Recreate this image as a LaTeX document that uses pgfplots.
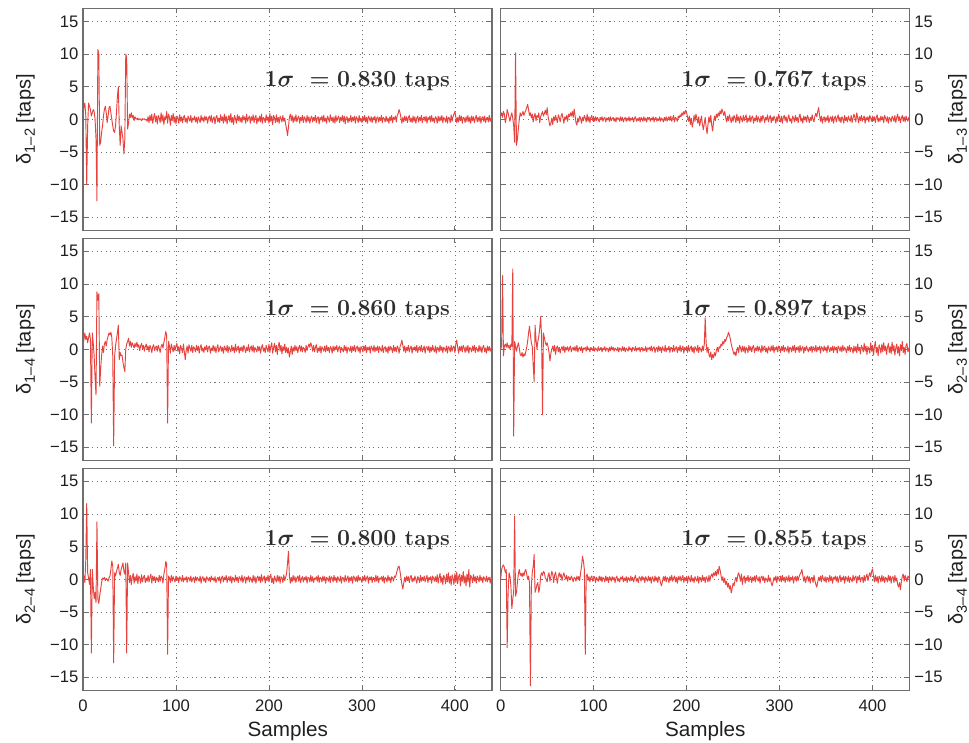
\documentclass[border=0pt]{standalone}
\usepackage{pgfplots}
\pgfplotsset{compat=1.18}
\usepackage{pgfplotstable}
\usepackage{fontspec}
\newfontfamily\hv{Liberation Sans}
\definecolor{linered}{RGB}{230,66,62}
\definecolor{framegray}{RGB}{110,110,110}

\pgfplotstableread[row sep=\\, header=false]{
0.5\\2.0\\2.5\\0.5\\-10.0\\-1.0\\2.5\\2.0\\1.5\\0.5\\
1.0\\1.5\\1.2\\0.0\\-3.0\\-12.5\\10.7\\10.0\\-4.0\\-3.5\\
-2.0\\-1.0\\0.5\\1.5\\2.0\\1.0\\-0.5\\0.5\\1.8\\2.0\\
1.0\\0.0\\-1.0\\-1.8\\-2.0\\-1.0\\1.0\\3.5\\5.0\\-1.0\\
-4.0\\-1.0\\-2.0\\-3.0\\-5.3\\-3.0\\10.0\\9.5\\-1.5\\-0.5\\
0.8\\0.3\\1.0\\0.2\\0.6\\-0.2\\0.4\\0.1\\0.0\\0.2\\
-0.1\\0.1\\0.0\\-0.2\\0.1\\0.0\\0.1\\-0.1\\0.0\\-0.3\\
0.4\\-0.5\\0.6\\-0.2\\0.8\\-0.6\\0.3\\0.9\\-0.4\\0.5\\
-0.7\\0.6\\0.2\\-0.5\\1.0\\-0.3\\0.7\\-0.8\\0.4\\0.1\\
1.2\\-0.6\\0.8\\0.3\\-0.9\\0.6\\-0.2\\0.9\\-0.5\\0.4\\
-0.7\\0.5\\0.2\\-0.6\\0.7\\-0.3\\0.4\\-0.5\\0.3\\0.6\\
-0.4\\0.2\\-0.6\\0.5\\0.1\\-0.3\\0.6\\-0.5\\0.2\\-0.1\\
0.5\\-0.4\\0.3\\-0.6\\0.4\\0.0\\-0.5\\0.6\\-0.2\\0.3\\
-0.4\\0.5\\-0.1\\0.4\\-0.6\\0.2\\0.5\\-0.3\\0.6\\-0.5\\
0.1\\0.4\\-0.7\\0.3\\0.6\\-0.4\\0.2\\-0.5\\0.7\\-0.2\\
0.4\\-0.6\\0.8\\-0.3\\0.5\\-0.7\\0.2\\0.6\\-0.4\\0.9\\
-0.5\\0.3\\-0.8\\0.6\\0.1\\-0.6\\0.7\\-0.2\\0.5\\-0.4\\
0.3\\-0.5\\0.6\\-0.1\\0.4\\-0.6\\0.8\\-0.3\\0.2\\0.5\\
-0.6\\0.4\\-0.2\\0.7\\-0.5\\0.3\\0.6\\-0.7\\0.2\\-0.3\\
0.5\\-0.4\\0.8\\-0.6\\0.3\\0.1\\-0.5\\0.7\\-0.2\\0.4\\
-0.6\\0.9\\-0.3\\0.5\\-0.8\\0.6\\0.2\\-0.5\\0.7\\-0.4\\
0.3\\-0.6\\0.5\\0.1\\-0.4\\0.6\\-0.3\\0.2\\-0.8\\-1.5\\
-2.5\\-1.2\\0.3\\0.8\\-0.2\\0.6\\-0.5\\0.4\\-0.3\\0.7\\
-0.4\\0.2\\0.5\\-0.6\\0.3\\-0.2\\0.6\\-0.5\\0.4\\0.1\\
-0.5\\0.6\\-0.3\\0.4\\-0.6\\0.2\\0.5\\-0.4\\0.3\\-0.2\\
0.6\\-0.5\\0.2\\0.4\\-0.7\\0.3\\-0.1\\0.5\\-0.4\\0.6\\
-0.3\\0.2\\-0.6\\0.5\\0.1\\-0.4\\0.7\\-0.2\\0.3\\-0.5\\
0.4\\-0.6\\0.6\\-0.3\\0.2\\0.5\\-0.5\\0.3\\-0.2\\0.6\\
-0.4\\0.5\\-0.7\\0.3\\0.4\\-0.5\\0.2\\-0.3\\0.6\\-0.4\\
0.3\\-0.2\\0.5\\-0.6\\0.4\\0.1\\-0.5\\0.6\\-0.3\\0.2\\
-0.5\\0.4\\-0.2\\0.6\\-0.4\\0.3\\-0.6\\0.5\\0.2\\-0.3\\
0.4\\-0.5\\0.3\\-0.1\\0.5\\-0.6\\0.2\\0.4\\-0.4\\0.3\\
-0.2\\0.6\\-0.5\\0.3\\0.1\\-0.4\\0.5\\-0.3\\0.2\\-0.6\\
0.4\\-0.2\\0.6\\-0.5\\0.3\\0.0\\0.5\\-0.4\\0.6\\0.9\\
1.5\\1.0\\0.2\\-0.6\\0.3\\-0.4\\0.5\\-0.2\\0.4\\-0.5\\
0.3\\0.6\\-0.4\\0.2\\-0.5\\0.5\\-0.3\\0.4\\-0.6\\0.2\\
0.5\\-0.4\\0.3\\-0.2\\0.6\\-0.5\\0.2\\0.4\\-0.3\\0.5\\
-0.6\\0.3\\-0.1\\0.5\\-0.4\\0.6\\-0.3\\0.2\\-0.5\\0.4\\
0.2\\-0.6\\0.5\\-0.3\\0.4\\-0.2\\0.6\\-0.5\\0.3\\0.1\\
-0.4\\0.5\\-0.6\\0.3\\0.2\\-0.5\\0.7\\-0.3\\0.4\\0.8\\
1.2\\0.4\\-0.5\\0.3\\-0.4\\0.6\\-0.2\\0.5\\-0.6\\0.3\\
0.2\\-0.5\\0.4\\-0.3\\0.6\\-0.4\\0.3\\-0.6\\0.5\\-0.2\\
0.4\\-0.5\\0.2\\0.6\\-0.4\\0.3\\-0.3\\0.5\\-0.6\\0.2\\
0.4\\-0.3\\0.5\\-0.5\\0.2\\0.3\\-0.4\\0.6\\-0.3\\0.2\\0.0\\
}\dA

\pgfplotstableread[row sep=\\, header=false]{
0.5\\1.0\\0.3\\1.2\\0.8\\-0.5\\0.2\\1.5\\1.0\\0.3\\
-0.3\\0.5\\1.0\\0.2\\-1.0\\-3.5\\10.2\\-4.0\\-3.0\\-1.5\\
0.0\\1.0\\0.5\\0.8\\1.2\\0.6\\1.0\\1.4\\1.8\\2.3\\
1.5\\0.6\\1.0\\0.2\\0.8\\-0.4\\0.5\\0.9\\-0.2\\0.6\\
0.3\\1.0\\-0.5\\0.4\\0.8\\1.2\\0.5\\0.9\\1.4\\0.7\\
1.8\\0.4\\-0.3\\-1.0\\-0.6\\0.2\\-0.8\\0.4\\-0.2\\0.6\\
0.1\\-0.5\\0.7\\0.3\\-0.4\\0.5\\0.9\\0.2\\-0.6\\0.4\\
0.0\\0.6\\-0.3\\0.8\\0.4\\1.0\\0.5\\1.2\\0.3\\1.6\\
0.6\\-0.5\\-0.9\\0.2\\-0.4\\0.5\\0.1\\-0.6\\0.3\\-0.2\\
0.6\\0.2\\-0.4\\0.8\\-0.3\\0.4\\-0.5\\0.3\\0.6\\-0.2\\
0.3\\-0.3\\0.4\\-0.2\\0.3\\0.0\\-0.4\\0.3\\-0.1\\0.4\\
-0.3\\0.2\\0.3\\-0.4\\0.2\\-0.1\\0.3\\-0.3\\0.4\\-0.2\\
0.1\\0.3\\-0.3\\0.2\\-0.4\\0.3\\0.0\\0.2\\-0.3\\0.4\\
-0.2\\0.3\\-0.4\\0.1\\0.3\\-0.3\\0.2\\-0.2\\0.4\\-0.3\\
0.2\\-0.1\\0.3\\-0.4\\0.2\\0.4\\-0.3\\0.1\\-0.2\\0.3\\
-0.4\\0.3\\0.1\\-0.3\\0.4\\-0.2\\0.2\\-0.4\\0.3\\0.0\\
0.3\\-0.3\\0.2\\-0.1\\0.4\\-0.4\\0.2\\0.3\\-0.3\\0.1\\
-0.2\\0.4\\-0.3\\0.2\\0.0\\-0.4\\0.3\\-0.2\\0.4\\-0.3\\
0.2\\0.4\\-0.2\\0.5\\-0.3\\0.2\\0.6\\-0.4\\0.3\\0.1\\
-0.3\\0.5\\0.2\\0.7\\0.4\\1.0\\0.6\\1.2\\0.8\\1.4\\
1.0\\0.4\\-0.3\\0.5\\-0.8\\0.2\\-1.2\\-0.5\\0.6\\-0.3\\
0.8\\0.2\\-0.6\\0.4\\-1.0\\-0.3\\0.5\\-0.8\\-1.6\\-0.6\\
0.3\\-1.2\\-2.2\\-0.8\\0.4\\-0.5\\0.6\\-0.9\\-1.8\\-0.4\\
0.5\\-0.2\\0.8\\0.3\\1.0\\0.5\\1.3\\0.8\\1.6\\1.1\\
0.6\\1.2\\0.3\\-0.4\\0.5\\-0.2\\0.7\\0.1\\-0.5\\0.4\\
-0.3\\0.6\\0.2\\-0.5\\0.8\\-0.2\\0.4\\-0.6\\0.5\\0.1\\
-0.4\\0.6\\-0.2\\0.3\\0.7\\-0.5\\0.2\\-0.3\\0.6\\-0.4\\
0.3\\0.5\\-0.6\\0.2\\-0.2\\0.6\\-0.4\\0.4\\0.0\\-0.5\\
0.5\\-0.3\\0.6\\0.2\\-0.5\\0.3\\-0.1\\0.7\\-0.4\\0.2\\
0.6\\-0.5\\0.3\\-0.2\\0.5\\0.1\\-0.6\\0.4\\-0.3\\0.8\\
0.2\\-0.4\\0.5\\-0.6\\0.3\\0.6\\-0.2\\0.4\\-0.5\\0.2\\
0.7\\-0.3\\0.1\\-0.6\\0.5\\0.2\\-0.4\\0.6\\-0.2\\0.3\\
-0.5\\0.4\\0.8\\-0.3\\0.2\\-0.6\\0.5\\-0.1\\0.4\\-0.4\\
0.6\\0.2\\-0.5\\0.3\\-0.2\\0.7\\0.0\\-0.4\\0.5\\0.9\\
0.4\\1.2\\1.8\\0.6\\-0.3\\0.5\\-0.6\\0.2\\0.4\\-0.4\\
0.3\\-0.2\\0.6\\-0.5\\0.1\\0.4\\-0.3\\0.5\\-0.6\\0.2\\
0.5\\-0.4\\0.2\\0.7\\-0.3\\0.3\\-0.5\\0.4\\0.1\\-0.6\\
0.6\\-0.2\\0.3\\-0.4\\0.5\\0.0\\-0.3\\0.6\\-0.5\\0.2\\
0.8\\0.3\\-0.4\\1.0\\0.2\\-0.5\\0.4\\-0.2\\0.6\\-0.3\\
0.2\\0.5\\-0.6\\0.3\\-0.1\\0.4\\-0.4\\0.6\\0.2\\-0.3\\
0.5\\-0.2\\0.4\\-0.5\\0.3\\0.7\\-0.4\\0.2\\-0.3\\0.5\\
-0.1\\0.4\\-0.5\\0.6\\0.2\\-0.3\\0.4\\-0.6\\0.3\\0.1\\
-0.4\\0.5\\0.2\\-0.3\\0.6\\-0.5\\0.3\\0.8\\-0.2\\0.4\\
-0.5\\0.2\\0.6\\-0.3\\0.4\\-0.4\\0.5\\0.1\\-0.3\\0.3\\0.0\\
}\dB

\pgfplotstableread[row sep=\\, header=false]{
0.5\\1.5\\2.5\\1.5\\2.0\\1.0\\1.8\\2.5\\1.5\\-11.3\\
2.5\\1.0\\-1.0\\-4.4\\-7.0\\8.8\\7.5\\8.5\\-5.7\\-3.0\\
-1.0\\0.5\\-0.5\\0.8\\1.2\\0.5\\1.5\\2.0\\2.5\\2.2\\
2.6\\1.8\\-1.0\\-14.8\\-1.1\\0.5\\1.5\\2.5\\3.7\\-1.6\\
-0.5\\-1.0\\-0.9\\-2.0\\-2.8\\-3.4\\0.0\\0.8\\1.2\\1.7\\
0.5\\1.2\\0.3\\1.0\\0.6\\0.2\\0.9\\0.4\\1.1\\0.3\\
0.7\\-0.2\\0.5\\0.9\\0.1\\0.6\\-0.3\\0.4\\0.8\\0.0\\
0.5\\-0.4\\0.6\\0.2\\-0.5\\0.4\\0.7\\-0.2\\0.3\\0.5\\
-0.3\\0.6\\0.1\\-0.5\\0.4\\0.8\\0.2\\1.0\\1.8\\2.7\\
2.2\\-11.3\\1.2\\0.5\\-0.6\\0.8\\0.2\\-0.4\\0.6\\-0.2\\
0.5\\0.9\\-0.3\\0.4\\-0.7\\0.6\\0.1\\-0.5\\0.8\\-0.4\\
-1.6\\-0.2\\0.5\\-0.6\\0.7\\0.2\\-0.3\\0.6\\-0.5\\0.4\\
0.1\\-0.4\\0.6\\-0.2\\0.5\\-0.6\\0.3\\0.7\\-0.3\\0.2\\
-0.5\\0.4\\-0.1\\0.6\\-0.4\\0.3\\0.5\\-0.6\\0.2\\-0.2\\
0.6\\-0.3\\0.4\\-0.5\\0.2\\0.7\\-0.4\\0.1\\0.5\\-0.3\\
0.3\\-0.6\\0.5\\0.2\\-0.3\\0.6\\-0.5\\0.4\\0.0\\-0.4\\
0.6\\-0.2\\0.3\\-0.5\\0.8\\-0.3\\0.2\\0.5\\-0.6\\0.3\\
-0.2\\0.4\\-0.4\\0.6\\0.1\\-0.5\\0.3\\-0.2\\0.7\\-0.4\\
0.2\\0.5\\-0.3\\0.6\\-0.5\\0.3\\0.0\\-0.4\\0.5\\-0.2\\
0.4\\-0.6\\0.3\\0.7\\-0.3\\0.2\\-0.5\\0.6\\0.1\\-0.4\\
0.8\\-0.5\\0.4\\1.0\\-0.6\\0.3\\0.9\\-0.4\\0.6\\-0.8\\
0.5\\1.1\\-0.3\\0.6\\-0.7\\0.4\\-0.2\\0.8\\-0.5\\0.3\\
-0.6\\0.2\\-1.2\\-0.4\\0.5\\-0.8\\0.3\\-0.3\\0.6\\-0.2\\
0.4\\-0.5\\0.2\\0.6\\-0.3\\0.5\\-0.4\\0.3\\0.1\\-0.5\\
0.6\\-0.2\\0.4\\0.8\\0.3\\1.0\\0.5\\-0.3\\0.6\\-0.4\\
0.3\\0.7\\-0.5\\0.2\\-0.3\\0.5\\-0.6\\0.4\\0.1\\-0.3\\
0.5\\-0.4\\0.6\\-0.2\\0.3\\-0.5\\0.4\\0.2\\-0.6\\0.5\\
-0.3\\0.4\\-0.1\\0.6\\-0.4\\0.2\\0.5\\-0.5\\0.3\\0.0\\
-0.4\\0.6\\-0.2\\0.4\\-0.6\\0.3\\0.1\\-0.3\\0.5\\-0.5\\
0.4\\-0.2\\0.6\\-0.4\\0.2\\0.5\\-0.3\\0.3\\-0.6\\0.4\\
0.1\\-0.4\\0.5\\-0.2\\0.6\\-0.5\\0.3\\-0.1\\0.4\\-0.6\\
0.5\\0.2\\-0.3\\0.6\\-0.4\\0.3\\-0.2\\0.5\\-0.5\\0.4\\
0.0\\-0.3\\0.6\\-0.5\\0.2\\0.4\\-0.4\\0.3\\-0.6\\0.5\\
-0.2\\0.4\\0.1\\-0.5\\0.6\\-0.3\\0.3\\-0.4\\0.5\\0.2\\
-0.6\\0.4\\0.8\\1.4\\0.6\\-0.3\\0.5\\-0.5\\0.3\\-0.2\\
0.6\\-0.4\\0.2\\0.5\\-0.6\\0.3\\-0.1\\0.4\\-0.3\\0.6\\
-0.5\\0.2\\0.4\\-0.3\\0.6\\-0.4\\0.1\\0.5\\-0.6\\0.3\\
0.4\\-0.2\\0.5\\-0.5\\0.3\\-0.3\\0.6\\0.0\\-0.4\\0.5\\
-0.6\\0.3\\0.2\\-0.4\\0.6\\-0.2\\0.4\\-0.5\\0.3\\0.1\\
-0.3\\0.5\\-0.6\\0.4\\0.2\\-0.4\\0.6\\-0.3\\0.3\\0.5\\
-0.5\\0.8\\1.4\\0.3\\-0.6\\0.4\\-0.2\\0.5\\-0.4\\0.6\\
0.2\\-0.5\\0.4\\-0.3\\0.6\\-0.6\\0.3\\0.1\\-0.4\\0.5\\
-0.2\\0.6\\-0.5\\0.3\\0.0\\-0.4\\0.6\\-0.3\\0.4\\-0.5\\
0.3\\0.6\\-0.4\\0.2\\-0.6\\0.5\\-0.2\\0.4\\-0.3\\0.2\\0.1\\
}\dC

\pgfplotstableread[row sep=\\, header=false]{
0.0\\0.5\\11.3\\-1.0\\0.5\\0.8\\0.3\\1.0\\0.2\\0.6\\
0.0\\0.8\\0.4\\12.3\\-13.3\\1.2\\0.5\\-0.3\\0.4\\1.0\\
0.2\\-0.8\\-1.0\\-0.5\\-1.2\\-0.7\\-1.0\\-0.4\\0.3\\1.2\\
2.5\\3.5\\2.2\\1.0\\0.4\\-2.5\\-5.0\\3.7\\1.5\\0.0\\
1.2\\2.0\\3.2\\5.0\\2.0\\-10.0\\2.5\\1.8\\1.0\\0.6\\
1.0\\0.4\\-0.5\\-1.8\\-0.6\\0.0\\0.5\\-0.3\\0.6\\-0.8\\
0.2\\0.5\\-0.4\\0.3\\-0.6\\0.1\\0.4\\-0.2\\0.5\\-0.5\\
0.3\\-0.1\\0.4\\-0.3\\0.2\\0.5\\-0.4\\0.1\\0.3\\-0.2\\
0.4\\-0.3\\0.6\\-0.4\\0.1\\0.3\\-0.2\\0.4\\-0.5\\0.2\\
0.0\\0.3\\-0.3\\0.5\\-0.1\\0.2\\-0.4\\0.3\\0.1\\-0.2\\
0.4\\-0.3\\0.2\\0.0\\-0.3\\0.4\\-0.2\\0.1\\0.3\\-0.4\\
0.2\\-0.1\\0.4\\-0.3\\0.2\\0.1\\-0.4\\0.3\\-0.2\\0.4\\
-0.1\\0.3\\-0.3\\0.2\\0.0\\-0.2\\0.3\\-0.4\\0.2\\0.1\\
-0.3\\0.4\\-0.2\\0.3\\-0.4\\0.2\\0.0\\-0.3\\0.4\\-0.1\\
0.2\\-0.4\\0.3\\0.1\\-0.2\\0.4\\-0.3\\0.2\\-0.1\\0.3\\
-0.4\\0.2\\0.3\\-0.3\\0.1\\-0.2\\0.4\\-0.4\\0.2\\0.0\\
0.3\\-0.2\\0.5\\-0.3\\0.2\\0.4\\-0.5\\0.1\\0.3\\-0.4\\
0.5\\-0.2\\0.3\\-0.5\\0.4\\0.0\\-0.3\\0.6\\-0.4\\0.2\\
-0.1\\0.5\\-0.5\\0.3\\0.2\\-0.4\\0.6\\-0.3\\0.1\\0.4\\
-0.5\\0.3\\-0.2\\0.6\\-0.4\\0.2\\0.5\\-0.6\\0.3\\-0.1\\
0.4\\-0.5\\0.6\\-0.3\\0.2\\0.5\\-0.4\\0.3\\-0.6\\0.4\\
0.1\\-0.3\\0.6\\-0.5\\0.3\\0.0\\-0.4\\0.5\\-0.2\\0.8\\
4.8\\1.0\\-0.5\\0.3\\-0.8\\-1.2\\-0.4\\-1.6\\-0.8\\-1.3\\
-0.5\\-1.0\\-0.2\\0.3\\-0.4\\0.4\\0.2\\0.8\\0.5\\1.2\\
0.8\\1.5\\1.2\\1.8\\2.0\\2.6\\2.2\\1.6\\0.8\\0.2\\
-0.3\\-0.8\\-0.4\\-1.0\\-0.2\\0.3\\-0.5\\0.6\\0.2\\-0.4\\
0.5\\-0.3\\0.4\\-0.6\\0.3\\0.1\\-0.5\\0.6\\-0.2\\0.4\\
-0.4\\0.3\\0.6\\-0.5\\0.2\\-0.2\\0.5\\-0.3\\0.4\\0.0\\
-0.5\\0.6\\-0.3\\0.3\\0.5\\-0.4\\0.2\\-0.6\\0.4\\0.1\\
-0.3\\0.5\\-0.2\\0.6\\-0.5\\0.3\\-0.1\\0.4\\-0.4\\0.5\\
0.2\\-0.5\\0.4\\-0.2\\0.6\\-0.4\\0.3\\0.0\\-0.3\\0.5\\
-0.6\\0.3\\0.2\\-0.4\\0.5\\-0.2\\0.6\\-0.5\\0.3\\-0.1\\
0.4\\-0.5\\0.6\\-0.3\\0.2\\0.4\\-0.6\\0.3\\-0.2\\0.5\\
0.0\\-0.4\\0.3\\-0.2\\0.5\\-0.5\\0.4\\0.2\\-0.3\\0.6\\
-0.4\\0.3\\-0.1\\0.5\\-0.6\\0.4\\0.2\\-0.3\\0.5\\-0.2\\
0.3\\-0.5\\0.6\\0.1\\-0.4\\0.3\\-0.2\\0.5\\-0.5\\0.4\\
-0.1\\0.3\\-0.6\\0.5\\0.2\\-0.3\\0.4\\-0.4\\0.6\\-0.2\\
0.3\\0.0\\-0.5\\0.4\\-0.2\\0.6\\-0.4\\0.3\\0.1\\-0.6\\
0.5\\-0.3\\0.4\\-0.5\\0.8\\-0.2\\0.3\\-0.7\\0.6\\0.2\\
-0.4\\0.9\\-0.3\\0.5\\-0.8\\0.4\\0.1\\-0.6\\1.0\\-0.3\\
0.6\\-0.9\\0.4\\1.2\\-0.5\\0.3\\-1.0\\0.7\\0.2\\-0.6\\
0.8\\-0.4\\1.0\\-0.2\\0.5\\-0.8\\0.3\\0.9\\-0.5\\0.4\\
-0.7\\1.1\\-0.3\\0.6\\-0.9\\0.2\\0.8\\-0.6\\0.4\\-1.0\\
0.7\\-0.2\\1.2\\-0.5\\0.3\\-0.8\\0.6\\0.9\\-0.4\\0.2\\-0.6\\
}\dD

\pgfplotstableread[row sep=\\, header=false]{
0.0\\0.5\\-0.5\\3.0\\11.6\\1.0\\0.2\\-0.8\\1.5\\-11.3\\
1.5\\-1.0\\-3.0\\-2.0\\-3.6\\8.8\\-3.0\\-3.7\\-2.5\\-1.5\\
-0.5\\0.2\\0.0\\0.3\\-0.2\\0.1\\0.0\\-0.3\\0.2\\0.5\\
1.5\\2.8\\2.0\\-12.8\\1.0\\0.5\\1.2\\1.7\\2.3\\1.0\\
0.6\\1.5\\2.0\\2.5\\1.2\\0.8\\2.5\\-11.3\\2.5\\1.0\\
-0.5\\0.6\\-0.8\\0.3\\0.9\\-0.6\\0.4\\-0.3\\0.8\\-0.7\\
0.5\\0.2\\-0.6\\0.7\\-0.4\\0.3\\0.6\\-0.5\\0.2\\-0.3\\
0.6\\-0.4\\0.3\\0.8\\-0.6\\0.5\\-0.2\\0.4\\-0.5\\0.3\\
0.1\\-0.4\\0.6\\-0.3\\0.5\\0.2\\-0.6\\0.8\\1.5\\2.7\\
2.4\\-11.5\\0.5\\0.2\\-0.5\\0.6\\-0.3\\0.4\\0.0\\-0.4\\
0.5\\-0.2\\0.3\\-0.5\\0.4\\0.1\\-0.3\\0.6\\-0.4\\0.2\\
-0.1\\0.4\\-0.5\\0.3\\0.2\\-0.3\\0.5\\-0.4\\0.1\\0.3\\
-0.5\\0.4\\-0.2\\0.3\\0.0\\-0.3\\0.5\\-0.6\\0.2\\0.4\\
-0.3\\0.2\\-0.5\\0.4\\0.1\\-0.2\\0.3\\-0.4\\0.5\\-0.1\\
0.2\\-0.3\\0.4\\-0.5\\0.0\\0.3\\-0.2\\0.4\\-0.6\\0.2\\
0.5\\-0.4\\0.3\\-0.1\\0.6\\-0.5\\0.2\\0.4\\-0.3\\0.5\\
-0.6\\0.3\\0.1\\-0.4\\0.6\\-0.2\\0.3\\-0.5\\0.4\\0.2\\
-0.3\\0.6\\-0.5\\0.2\\0.4\\-0.6\\0.3\\-0.1\\0.5\\-0.4\\
0.3\\0.0\\-0.5\\0.6\\-0.3\\0.4\\-0.6\\0.2\\0.5\\-0.2\\
0.4\\-0.5\\0.7\\-0.3\\0.2\\0.5\\-0.6\\0.3\\-0.2\\0.6\\
-0.4\\0.3\\0.8\\-0.5\\0.2\\-0.7\\0.5\\0.0\\-0.4\\0.6\\
-0.3\\0.5\\-0.6\\0.4\\0.2\\-0.5\\0.7\\-0.2\\0.3\\0.9\\
2.5\\4.3\\0.5\\-0.6\\0.3\\-0.4\\0.6\\-0.2\\0.4\\-0.5\\
0.2\\0.5\\-0.3\\0.6\\-0.5\\0.1\\0.4\\-0.4\\0.3\\-0.1\\
0.5\\-0.6\\0.3\\0.2\\-0.4\\0.6\\-0.3\\0.4\\-0.5\\0.2\\
0.0\\0.4\\-0.3\\0.6\\-0.5\\0.3\\0.2\\-0.4\\0.5\\-0.2\\
0.4\\-0.6\\0.3\\0.1\\-0.3\\0.5\\-0.5\\0.4\\0.2\\-0.4\\
0.6\\-0.2\\0.3\\-0.5\\0.4\\0.0\\-0.3\\0.5\\-0.6\\0.3\\
0.2\\-0.4\\0.6\\-0.3\\0.1\\0.5\\-0.5\\0.3\\-0.2\\0.4\\
-0.6\\0.5\\0.2\\-0.3\\0.4\\-0.4\\0.6\\-0.2\\0.3\\0.0\\
-0.5\\0.4\\-0.2\\0.6\\-0.3\\0.2\\0.5\\-0.6\\0.3\\-0.1\\
0.4\\-0.5\\0.3\\0.2\\-0.4\\0.6\\-0.3\\0.5\\-0.5\\0.2\\
0.0\\0.4\\-0.3\\0.5\\-0.6\\0.3\\0.1\\-0.4\\0.6\\-0.2\\
0.3\\-0.5\\0.4\\0.2\\-0.3\\0.5\\0.3\\0.8\\1.4\\1.9\\
2.0\\1.2\\0.2\\-0.8\\-1.5\\-0.6\\0.3\\-0.4\\0.5\\-0.2\\
0.4\\-0.5\\0.3\\0.6\\-0.4\\0.2\\-0.3\\0.5\\0.0\\-0.6\\
0.4\\0.2\\-0.5\\0.6\\-0.3\\0.3\\-0.2\\0.5\\-0.4\\0.1\\
0.6\\-0.5\\0.3\\-0.1\\0.4\\-0.6\\0.5\\0.2\\-0.3\\0.4\\
-0.4\\0.7\\-0.6\\0.3\\0.9\\-0.5\\0.4\\-0.8\\0.6\\0.2\\
-0.7\\0.8\\-0.4\\1.0\\-0.6\\0.5\\-0.9\\0.7\\0.1\\-0.8\\
0.9\\-0.5\\1.1\\-0.7\\0.4\\0.8\\-1.0\\0.6\\-0.3\\1.2\\
-0.6\\0.5\\-1.0\\0.8\\-0.4\\1.5\\-1.2\\0.6\\0.3\\-0.5\\
0.7\\-0.3\\0.4\\-0.6\\0.5\\0.2\\-0.4\\0.6\\-0.2\\0.3\\
-0.5\\0.4\\0.1\\-0.3\\0.5\\-0.4\\0.2\\0.3\\-0.6\\0.4\\-0.3\\
}\dE

\pgfplotstableread[row sep=\\, header=false]{
0.0\\1.5\\2.0\\2.2\\1.8\\1.0\\1.5\\-10.5\\-2.0\\1.0\\
0.5\\-1.0\\-4.5\\-3.0\\-2.0\\9.7\\-2.6\\-2.0\\-0.5\\0.8\\
1.5\\0.6\\0.9\\0.4\\1.0\\0.5\\1.2\\1.5\\0.8\\0.0\\
0.5\\-0.5\\-16.3\\-1.0\\1.0\\2.0\\3.8\\-2.0\\-1.5\\-0.8\\
-0.5\\-2.0\\-1.2\\0.5\\1.0\\0.6\\1.2\\1.0\\0.2\\0.0\\
-0.4\\0.6\\1.0\\-0.3\\0.4\\1.2\\0.8\\-0.5\\0.6\\1.1\\
0.2\\-0.6\\0.5\\1.0\\0.3\\0.8\\-0.2\\0.5\\1.0\\0.4\\
0.0\\0.6\\-0.3\\0.4\\0.2\\-0.1\\0.5\\0.1\\-0.4\\0.3\\
0.2\\-0.3\\0.5\\0.0\\0.4\\-0.2\\1.0\\2.0\\3.5\\2.8\\
1.5\\-11.5\\0.5\\0.8\\-0.2\\0.4\\-0.4\\0.3\\0.5\\-0.3\\
0.2\\0.4\\-0.5\\0.3\\0.0\\-0.3\\0.5\\-0.2\\0.4\\-0.4\\
0.3\\0.1\\-0.4\\0.5\\-0.2\\0.3\\-0.5\\0.4\\0.2\\-0.3\\
0.4\\-0.1\\0.3\\-0.5\\0.2\\0.5\\-0.3\\0.1\\-0.4\\0.3\\
0.0\\0.5\\-0.4\\0.2\\-0.2\\0.4\\-0.5\\0.3\\0.1\\-0.3\\
0.5\\-0.2\\0.3\\-0.4\\0.2\\0.6\\-0.3\\0.1\\-0.5\\0.4\\
0.2\\-0.3\\0.5\\-0.1\\0.3\\-0.5\\0.4\\0.0\\-0.3\\0.5\\
-0.2\\0.3\\-0.6\\0.4\\0.1\\-0.4\\0.5\\-0.2\\0.3\\-0.5\\
0.4\\0.2\\-0.6\\-1.0\\-0.3\\0.4\\-0.2\\0.5\\-0.4\\0.3\\
0.1\\-0.5\\0.4\\-0.2\\0.6\\-0.3\\0.2\\0.5\\-0.4\\0.3\\
-0.6\\0.4\\-0.1\\0.5\\-0.3\\0.2\\0.6\\-0.5\\0.3\\-0.2\\
0.4\\-0.6\\0.5\\0.1\\-0.4\\0.6\\-0.3\\0.2\\-0.5\\0.4\\
0.0\\-0.3\\0.5\\-0.6\\0.3\\0.2\\-0.4\\0.6\\-0.2\\0.3\\
-0.5\\0.4\\0.1\\-0.4\\0.6\\-0.3\\0.5\\0.8\\0.3\\1.0\\
0.6\\1.2\\0.5\\1.5\\0.8\\2.0\\1.4\\0.6\\-0.2\\0.4\\
-0.5\\0.2\\-0.8\\-0.3\\-1.2\\-0.6\\-1.5\\-1.0\\-2.1\\-1.4\\
-0.6\\-1.0\\-0.2\\0.3\\-0.4\\0.6\\1.0\\0.4\\-0.3\\0.8\\
-0.8\\0.2\\0.5\\-0.6\\0.3\\-0.2\\0.6\\-0.4\\0.2\\0.4\\
-0.5\\0.3\\-0.2\\0.5\\-0.4\\0.6\\0.1\\-0.3\\0.4\\-0.6\\
0.3\\0.5\\-0.2\\0.4\\-0.5\\0.2\\0.0\\-0.4\\0.6\\-0.3\\
0.2\\-0.6\\-1.0\\-0.4\\0.3\\-0.2\\0.5\\-0.5\\0.4\\0.1\\
-0.3\\0.5\\-0.4\\0.6\\-0.2\\0.3\\-0.5\\0.4\\0.2\\-0.3\\
0.6\\-0.4\\0.3\\-0.1\\0.5\\-0.6\\0.2\\0.4\\-0.3\\0.5\\
-0.2\\0.4\\0.8\\1.0\\1.5\\0.6\\-0.3\\0.4\\-0.5\\0.2\\
0.5\\-0.3\\0.4\\-0.6\\0.2\\0.3\\-0.5\\0.6\\-0.2\\-0.8\\
-1.2\\-0.4\\0.3\\-0.2\\0.5\\-0.4\\0.6\\0.1\\-0.3\\0.4\\
-0.5\\0.3\\0.2\\-0.4\\0.6\\-0.2\\0.4\\-0.6\\0.3\\0.0\\
0.5\\-0.3\\0.4\\-0.5\\0.2\\0.6\\-0.4\\0.3\\-0.1\\0.5\\
-0.6\\0.4\\0.2\\-0.3\\0.5\\-0.5\\0.3\\0.0\\-0.4\\0.6\\
-0.2\\0.3\\0.5\\-0.6\\0.4\\-0.1\\0.6\\-0.4\\0.2\\0.3\\
-0.5\\0.6\\-0.3\\0.4\\0.8\\-0.2\\0.5\\1.0\\0.4\\1.2\\
1.6\\0.5\\-0.4\\0.6\\-0.3\\0.4\\-0.6\\0.5\\0.2\\-0.4\\
0.6\\-0.3\\0.4\\-0.5\\0.3\\0.1\\-0.4\\0.6\\-0.2\\0.5\\
-0.6\\0.3\\0.4\\-0.5\\0.6\\-0.3\\0.2\\-0.8\\-1.2\\-0.5\\
-1.6\\-0.4\\0.5\\0.8\\-0.3\\0.6\\0.2\\-0.4\\0.5\\0.3\\0.0\\
}\dF

\pgfplotsset{
  panel/.style={
    width=306.8pt, height=166.5pt, scale only axis,
    anchor=north west,
    xmin=0, xmax=440, ymin=-17, ymax=17,
    xtick={0,100,200,300,400},
    ytick={-15,-10,-5,0,5,10,15},
    yticklabels={−15,−10,−5,0,5,10,15},
    grid=major,
    major grid style={dash pattern=on 0.8pt off 2.6pt, color=black!55, line width=0.55pt},
    tick align=inside, tick pos=both,
    major tick length=3.5pt,
    axis line style={framegray, line width=0.9pt},
    tick style={framegray, line width=0.6pt},
    ticklabel style={font=\hv\fontsize{12.5}{14}\selectfont, text=black!88},
    xticklabel style={yshift=-3.5pt},
    clip=true,
  },
  noxlab/.style={xticklabels={}},
  withxlab/.style={xticklabels={0,100,200,300,400}},
  rightlab/.style={yticklabel pos=right},
  leftlab/.style={yticklabel pos=left},
}
\tikzset{sig/.style={anchor=base, inner sep=0pt, text=black!82}}
\newcommand{\sigtext}[1]{{\fontsize{16.5}{20}\selectfont\bfseries\boldmath $1\sigma$\hspace{0.7em}$=#1$ taps}}
\newcommand{\ylab}[1]{{\hv\fontsize{15}{18}\selectfont δ\raisebox{-0.4ex}{\fontsize{11}{12}\selectfont #1} [taps]}}

\begin{document}
\begin{tikzpicture}
\begin{axis}[panel, noxlab, leftlab, at={(62.25pt,-6.25pt)}]
\addplot[linered, line width=0.7pt, mark=none, line join=round] table[x expr=\coordindex, y index=0] {\dA};
\node[sig] at (axis cs:295,5.1) {\sigtext{0.830}};
\end{axis}
\begin{axis}[panel, noxlab, rightlab, at={(375.5pt,-6.25pt)}]
\addplot[linered, line width=0.7pt, mark=none, line join=round] table[x expr=\coordindex, y index=0] {\dB};
\node[sig] at (axis cs:294,5.1) {\sigtext{0.767}};
\end{axis}
\begin{axis}[panel, noxlab, leftlab, at={(62.25pt,-178.7pt)}]
\addplot[linered, line width=0.7pt, mark=none, line join=round] table[x expr=\coordindex, y index=0] {\dC};
\node[sig] at (axis cs:295,5.1) {\sigtext{0.860}};
\end{axis}
\begin{axis}[panel, noxlab, rightlab, at={(375.5pt,-178.7pt)}]
\addplot[linered, line width=0.7pt, mark=none, line join=round] table[x expr=\coordindex, y index=0] {\dD};
\node[sig] at (axis cs:294,5.1) {\sigtext{0.897}};
\end{axis}
\begin{axis}[panel, withxlab, leftlab, at={(62.25pt,-351.2pt)}]
\addplot[linered, line width=0.7pt, mark=none, line join=round] table[x expr=\coordindex, y index=0] {\dE};
\node[sig] at (axis cs:295,5.1) {\sigtext{0.800}};
\end{axis}
\begin{axis}[panel, withxlab, rightlab, at={(375.5pt,-351.2pt)}]
\addplot[linered, line width=0.7pt, mark=none, line join=round] table[x expr=\coordindex, y index=0] {\dF};
\node[sig] at (axis cs:294,5.1) {\sigtext{0.855}};
\end{axis}
% axis labels
\node[rotate=90, anchor=base, inner sep=0pt, text=black!88] at (23pt,-89.5pt) {\ylab{1–2}};
\node[rotate=90, anchor=base, inner sep=0pt, text=black!88] at (23pt,-262pt) {\ylab{1–4}};
\node[rotate=90, anchor=base, inner sep=0pt, text=black!88] at (23pt,-434.5pt) {\ylab{2–4}};
\node[rotate=90, anchor=base, inner sep=0pt, text=black!88] at (722pt,-89.5pt) {\ylab{1–3}};
\node[rotate=90, anchor=base, inner sep=0pt, text=black!88] at (722pt,-262pt) {\ylab{2–3}};
\node[rotate=90, anchor=base, inner sep=0pt, text=black!88] at (722pt,-434.5pt) {\ylab{3–4}};
\node[anchor=base, inner sep=0pt, text=black!88, font=\hv\fontsize{15.5}{18}\selectfont] at (215.9pt,-552pt) {Samples};
\node[anchor=base, inner sep=0pt, text=black!88, font=\hv\fontsize{15.5}{18}\selectfont] at (529pt,-552pt) {Samples};
\pgfresetboundingbox
\useasboundingbox (0,0) rectangle (726.75pt,-556.5pt);
\end{tikzpicture}
\end{document}
